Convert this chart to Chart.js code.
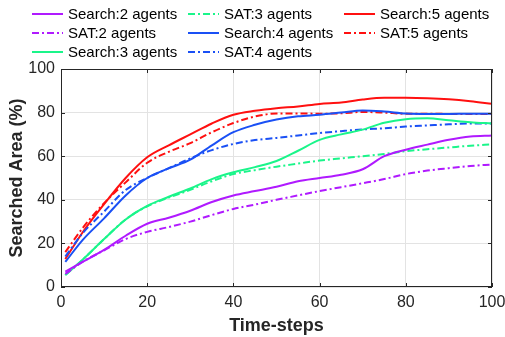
<!DOCTYPE html>
<html>
<head>
<meta charset="utf-8">
<script src="https://cdn.jsdelivr.net/npm/chart.js@4/dist/chart.umd.min.js"></script>
<style>
html,body{margin:0;padding:0;background:#fff;}
#wrap{width:505px;height:337px;position:relative;}
</style>
</head>
<body>
<div id="wrap"><canvas id="c" width="505" height="337"></canvas></div>
<script>
const timeSteps = [1,5,10,15,20,25,30,35,40,45,50,55,60,65,70,75,80,85,90,95,100];
const search2 = [7,11.5,17,23.5,29,31.8,35,39,42,44,46,48.5,50,51.5,54,60,63,65.3,67.5,69,69.5];
const sat2    = [6,11.5,16.8,22,25.3,27.5,30,33,35.8,37.8,40,42,44,45.8,47.6,49.5,51.8,53.4,54.5,55.5,56.2];
const search3 = [5.5,12.5,22,31,37.2,41.4,45.2,49.5,52.6,55,57.8,62.5,67.5,70,72.2,75.3,77,77.4,76.5,75.6,75];
const sat3    = [5.5,12.5,22,31,37,41,44.6,48.5,51.8,53.6,55.2,56.6,58,59,60,61,62.3,63.2,64,64.8,65.4];
const search4 = [11.5,21.5,31.5,42,50,54.4,58.4,65,71,74.4,76.8,78.3,79,80,81,80.5,79.6,79.4,79.4,79.5,79.5];
const sat4    = [14,24.6,34.6,44.5,50,54.5,59,62.8,65.6,67.4,68.4,69.5,70.6,71.5,72.3,72.8,73.6,74.1,74.6,75,75];
const search5 = [12.8,25,38,50,59.5,65,70,75,79,80.8,82,82.8,84,84.6,86,86.8,86.8,86.6,86.1,85.2,84];
const sat5    = [16,27,38.5,48,57,62,66,71,75.2,78.2,79.6,79.6,79.5,79.7,80.3,80,79.5,79.5,79.4,79.4,79.4];
const seriesLabels = ['Search:2 agents','SAT:2 agents','Search:3 agents','SAT:3 agents','Search:4 agents','SAT:4 agents','Search:5 agents','SAT:5 agents'];
const seriesValues = [search2, sat2, search3, sat3, search4, sat4, search5, sat5];
const xTickLabels = [0,20,40,60,80,100];
const yTickLabels = [0,20,40,60,80,100];

const colors = ['#b01aff','#b01aff','#1af58a','#1af58a','#1a50f5','#1a50f5','#ff1010','#ff1010'];
const FONT = '"Liberation Sans", Arial, Helvetica, sans-serif';
const DASH = [7,3,2,3];

const datasets = seriesLabels.map((lab, i) => ({
  label: lab,
  data: timeSteps.map((t, j) => ({x: t, y: seriesValues[i][j]})),
  borderColor: colors[i],
  backgroundColor: colors[i],
  borderWidth: 2,
  borderDash: lab.startsWith('SAT') ? DASH : [],
  pointRadius: 0,
  fill: false,
  cubicInterpolationMode: 'monotone'
}));

const boxPlugin = {
  id: 'boxPlugin',
  afterDraw(chart) {
    const ctx = chart.ctx;
    const a = chart.chartArea;
    const xs = chart.scales.x, ys = chart.scales.y;
    ctx.save();
    ctx.strokeStyle = '#262626';
    ctx.lineWidth = 1;
    ctx.setLineDash([]);
    ctx.strokeRect(a.left + 0.5, a.top + 0.5, a.right - a.left - 1, a.bottom - a.top - 1);
    ctx.beginPath();
    xTickLabels.forEach(v => {
      const px = Math.round(xs.getPixelForValue(v)) + 0.5;
      ctx.moveTo(px, a.bottom); ctx.lineTo(px, a.bottom - 4);
      ctx.moveTo(px, a.top); ctx.lineTo(px, a.top + 4);
    });
    yTickLabels.forEach(v => {
      const py = Math.round(ys.getPixelForValue(v)) + 0.5;
      ctx.moveTo(a.left, py); ctx.lineTo(a.left + 4, py);
      ctx.moveTo(a.right, py); ctx.lineTo(a.right - 4, py);
    });
    ctx.stroke();

    // legend (column-major, 3 rows)
    const colX = [32, 188, 344];
    const rowY = [14, 33, 52];
    ctx.font = '15px ' + FONT;
    ctx.textBaseline = 'middle';
    ctx.textAlign = 'left';
    chart.data.datasets.forEach((ds, i) => {
      const cx = colX[Math.floor(i / 3)];
      const cy = rowY[i % 3];
      ctx.strokeStyle = ds.borderColor;
      ctx.lineWidth = 2;
      ctx.setLineDash(ds.borderDash || []);
      ctx.beginPath();
      ctx.moveTo(cx, cy); ctx.lineTo(cx + 31, cy);
      ctx.stroke();
      ctx.setLineDash([]);
      ctx.fillStyle = '#000';
      ctx.fillText(ds.label, cx + 36, cy + 1);
    });
    ctx.restore();
  }
};

new Chart(document.getElementById('c'), {
  type: 'line',
  data: { datasets },
  options: {
    responsive: false,
    animation: false,
    devicePixelRatio: 1,
    layout: { padding: { left: 0, right: 0, top: 69, bottom: 0 } },
    plugins: { legend: { display: false }, tooltip: { enabled: false } },
    scales: {
      x: {
        type: 'linear', min: 0, max: 100,
        afterFit: s => { s.height = 50; s.paddingRight = 13; s.paddingLeft = 0; },
        afterBuildTicks: s => { s.ticks = xTickLabels.map(v => ({value: v})); },
        ticks: { color: '#262626', font: { family: FONT, size: 16 }, padding: 6, maxRotation: 0 },
        grid: { color: '#e3e3e3', lineWidth: 1, drawTicks: false },
        border: { display: false },
        title: { display: true, text: 'Time-steps', color: '#262626', font: { family: FONT, size: 18, weight: 'bold' }, padding: { top: 0, bottom: 0 } }
      },
      y: {
        min: 0, max: 100,
        afterFit: s => { s.width = 61; s.paddingTop = 0; s.paddingBottom = 0; },
        afterBuildTicks: s => { s.ticks = yTickLabels.map(v => ({value: v})); },
        ticks: { color: '#262626', font: { family: FONT, size: 16 }, padding: 6 },
        grid: { color: '#e3e3e3', lineWidth: 1, drawTicks: false },
        border: { display: false },
        title: { display: true, text: 'Searched Area (%)', color: '#262626', font: { family: FONT, size: 18, weight: 'bold' }, padding: { top: 6, bottom: 0 } }
      }
    }
  },
  plugins: [boxPlugin]
});
</script>
</body>
</html>
